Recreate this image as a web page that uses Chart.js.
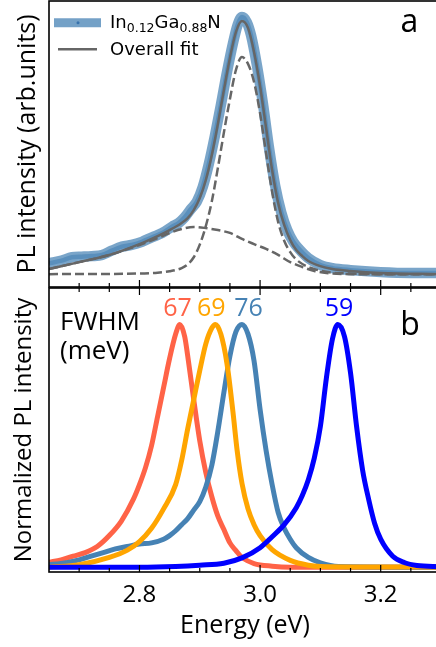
<!DOCTYPE html>
<html>
<head>
<meta charset="utf-8">
<script src="https://cdn.jsdelivr.net/npm/chart.js@4.4.1/dist/chart.umd.min.js"></script>
<style>
  html, body { margin: 0; padding: 0; background: #fff; overflow: hidden; }
  body { width: 436px; height: 647px; position: relative; }
  canvas { position: absolute; left: 0; }
  #topChart { top: 0; }
  #bottomChart { top: 287px; }
</style>
</head>
<body>
<canvas id="topChart" width="441" height="288"></canvas>
<canvas id="bottomChart" width="441" height="360"></canvas>
<script>
// x axis (energy, eV)
const xMin = 2.65, xMax = 3.30;
const majorTicks = [2.8, 3.0, 3.2];
const minorTicks = [2.70, 2.75, 2.85, 2.90, 2.95, 3.05, 3.10, 3.15, 3.25];

// panel a: measured PL of In0.12Ga0.88N
const dataE = [2.65, 2.671, 2.688, 2.704, 2.721, 2.738, 2.754, 2.771, 2.787, 2.804, 2.821, 2.837, 2.854, 2.865, 2.875, 2.885, 2.895, 2.905, 2.915, 2.925, 2.935, 2.945, 2.955, 2.963, 2.97, 2.978, 2.985, 2.995, 3.005, 3.015, 3.025, 3.035, 3.045, 3.055, 3.065, 3.08, 3.10, 3.12, 3.15, 3.20, 3.25, 3.30];
const dataPL = [0.083, 0.092, 0.104, 0.106, 0.108, 0.112, 0.127, 0.141, 0.147, 0.158, 0.174, 0.188, 0.211, 0.224, 0.244, 0.272, 0.298, 0.350, 0.430, 0.528, 0.636, 0.750, 0.852, 0.918, 0.944, 0.926, 0.880, 0.772, 0.637, 0.484, 0.354, 0.262, 0.199, 0.158, 0.132, 0.101, 0.077, 0.066, 0.059, 0.052, 0.049, 0.049];

// panel a: overall fit
const fitE = [2.65, 2.70, 2.75, 2.80, 2.83, 2.85, 2.87, 2.88, 2.89, 2.90, 2.91, 2.92, 2.93, 2.94, 2.95, 2.96, 2.97, 2.98, 2.99, 3.00, 3.01, 3.02, 3.03, 3.04, 3.05, 3.06, 3.07, 3.08, 3.10, 3.12, 3.15, 3.20, 3.30];
const fitPL = [0.063, 0.087, 0.112, 0.150, 0.178, 0.199, 0.224, 0.241, 0.269, 0.311, 0.374, 0.462, 0.570, 0.689, 0.801, 0.892, 0.930, 0.906, 0.822, 0.703, 0.556, 0.409, 0.294, 0.217, 0.164, 0.129, 0.108, 0.091, 0.073, 0.063, 0.056, 0.049, 0.045];

// panel a: fit components (dashed)
const narrowE = [2.65, 2.80, 2.83, 2.85, 2.87, 2.88, 2.89, 2.90, 2.91, 2.92, 2.93, 2.94, 2.95, 2.96, 2.97, 2.98, 2.99, 3.00, 3.01, 3.02, 3.03, 3.04, 3.05, 3.06, 3.08, 3.10, 3.12, 3.15, 3.20, 3.30];
const narrowPL = [0.045, 0.047, 0.050, 0.055, 0.066, 0.079, 0.104, 0.148, 0.213, 0.300, 0.416, 0.540, 0.657, 0.759, 0.804, 0.780, 0.717, 0.607, 0.468, 0.332, 0.227, 0.162, 0.122, 0.096, 0.070, 0.057, 0.050, 0.047, 0.045, 0.045];
const broadE = [2.65, 2.70, 2.75, 2.80, 2.83, 2.85, 2.87, 2.89, 2.91, 2.93, 2.95, 2.97, 2.99, 3.01, 3.03, 3.05, 3.07, 3.09, 3.11, 3.15, 3.30];
const broadPL = [0.063, 0.087, 0.112, 0.147, 0.171, 0.189, 0.203, 0.210, 0.206, 0.199, 0.189, 0.168, 0.150, 0.133, 0.112, 0.087, 0.070, 0.056, 0.049, 0.045, 0.045];

// panel b: normalized spectra
const redE = [2.65, 2.67, 2.69, 2.71, 2.73, 2.75, 2.77, 2.79, 2.80, 2.81, 2.82, 2.83, 2.84, 2.85, 2.86, 2.867, 2.875, 2.88, 2.89, 2.90, 2.91, 2.92, 2.93, 2.94, 2.95, 2.96, 2.97, 2.99, 3.02, 3.05, 3.30];
const redPL = [0.02, 0.03, 0.045, 0.06, 0.085, 0.13, 0.19, 0.28, 0.34, 0.41, 0.50, 0.62, 0.74, 0.86, 0.96, 1.0, 0.95, 0.87, 0.69, 0.52, 0.39, 0.29, 0.21, 0.155, 0.10, 0.068, 0.04, 0.015, 0.004, 0.0, 0.0];
const orangeE = [2.65, 2.70, 2.75, 2.78, 2.80, 2.82, 2.84, 2.86, 2.87, 2.88, 2.89, 2.90, 2.91, 2.92, 2.926, 2.935, 2.945, 2.955, 2.962, 2.97, 2.98, 2.99, 3.00, 3.02, 3.05, 3.08, 3.10, 3.30];
const orangePL = [0.0, 0.01, 0.04, 0.07, 0.105, 0.16, 0.24, 0.34, 0.44, 0.57, 0.69, 0.81, 0.92, 0.985, 1.0, 0.96, 0.84, 0.64, 0.48, 0.345, 0.24, 0.175, 0.13, 0.072, 0.028, 0.008, 0.003, 0.0];
const steelE = [2.65, 2.67, 2.70, 2.72, 2.74, 2.76, 2.78, 2.80, 2.82, 2.84, 2.85, 2.86, 2.87, 2.88, 2.89, 2.90, 2.91, 2.92, 2.93, 2.94, 2.95, 2.96, 2.97, 2.98, 2.99, 3.00, 3.01, 3.02, 3.03, 3.04, 3.05, 3.06, 3.08, 3.10, 3.13, 3.30];
const steelPL = [0.01, 0.015, 0.03, 0.045, 0.06, 0.075, 0.085, 0.095, 0.10, 0.115, 0.13, 0.15, 0.175, 0.20, 0.235, 0.27, 0.33, 0.42, 0.56, 0.72, 0.87, 0.97, 1.0, 0.96, 0.85, 0.65, 0.48, 0.34, 0.225, 0.16, 0.115, 0.08, 0.04, 0.018, 0.003, 0.0];
const blueE = [2.65, 2.80, 2.86, 2.90, 2.94, 2.97, 3.00, 3.02, 3.04, 3.06, 3.07, 3.08, 3.09, 3.10, 3.11, 3.12, 3.129, 3.14, 3.15, 3.16, 3.17, 3.18, 3.19, 3.20, 3.22, 3.24, 3.26, 3.30];
const bluePL = [0.0, 0.0, 0.003, 0.008, 0.016, 0.038, 0.08, 0.125, 0.175, 0.245, 0.295, 0.36, 0.45, 0.58, 0.78, 0.94, 1.0, 0.95, 0.80, 0.58, 0.40, 0.28, 0.18, 0.115, 0.045, 0.018, 0.007, 0.002];

// FWHM annotations (meV)
const fwhmText = ['67', '69', '76', '59'];
const fwhmAt = [2.863, 2.919, 2.981, 3.131];
const fwhmColors = ['#ff6347', '#ffa500', '#4682b4', '#0000ff'];

Chart.defaults.font.family = '"Open Sans"';
Chart.defaults.color = '#000';

function pts(xs, ys) {
    return xs.map((x, i) => ({ x: x, y: ys[i] }));
}

function line(xs, ys, color, width, dash) {
    return {
        data: pts(xs, ys),
        borderColor: color,
        borderWidth: width,
        borderDash: dash || [],
        pointRadius: 0,
        fill: false,
        cubicInterpolationMode: 'monotone'
    };
}

function frame(chart, topTicks) {
    const { ctx, chartArea: a } = chart;
    const x = chart.scales.x;
    ctx.save();
    ctx.strokeStyle = '#000';
    ctx.lineWidth = 1.6;
    ctx.strokeRect(a.left, a.top, a.right - a.left, a.bottom - a.top);
    ctx.lineWidth = 1.2;
    const mark = (v, len) => {
        const px = x.getPixelForValue(v);
        ctx.beginPath();
        ctx.moveTo(px, a.bottom);
        ctx.lineTo(px, a.bottom - len);
        if (topTicks) {
            ctx.moveTo(px, a.top);
            ctx.lineTo(px, a.top + len);
        }
        ctx.stroke();
    };
    majorTicks.forEach(v => mark(v, 7));
    minorTicks.forEach(v => mark(v, 4));
    ctx.restore();
}

function yAxis(min, max, label, size, pad) {
    return {
        min: min, max: max,
        grid: { display: false, drawTicks: false },
        border: { display: false },
        ticks: { display: false },
        afterFit: s => { s.width = 49; },
        title: { display: true, text: label, font: { size: size }, padding: { top: pad, bottom: 0 } }
    };
}

function initTop() {
    const decor = {
        id: 'decorA',
        afterDatasetsDraw(chart) {
            frame(chart, false);
            const ctx = chart.ctx;
            ctx.save();
            // legend
            ctx.lineCap = 'butt';
            ctx.strokeStyle = 'rgba(70,130,180,0.75)';
            ctx.lineWidth = 9;
            ctx.beginPath(); ctx.moveTo(54, 22.8); ctx.lineTo(101, 22.8); ctx.stroke();
            ctx.fillStyle = 'rgba(50,110,170,0.9)';
            ctx.beginPath(); ctx.arc(78, 22.8, 1.5, 0, Math.PI * 2); ctx.fill();
            ctx.strokeStyle = '#666';
            ctx.lineWidth = 2.5;
            ctx.beginPath(); ctx.moveTo(58, 49.3); ctx.lineTo(97, 49.3); ctx.stroke();

            ctx.fillStyle = '#000';
            ctx.textBaseline = 'alphabetic';
            let px = 110;
            const parts = [['In', 0], ['0.12', 1], ['Ga', 0], ['0.88', 1], ['N', 0]];
            parts.forEach(([t, sub]) => {
                ctx.font = sub ? '12.5px "DejaVu Sans"' : '18px "DejaVu Sans"';
                ctx.fillText(t, px, sub ? 31.5 : 27.5);
                px += ctx.measureText(t).width;
            });
            ctx.font = '18px "DejaVu Sans"';
            ctx.fillText('Overall fit', 110, 55);

            ctx.font = '32px "Open Sans"';
            ctx.textAlign = 'center';
            ctx.fillText('a', 409.5, 31.5);
            ctx.restore();
        }
    };
    new Chart(document.getElementById('topChart'), {
        type: 'line',
        data: {
            datasets: [
                line(fitE, fitPL, '#666666', 2.5),
                line(narrowE, narrowPL, '#666666', 2.5, [9, 4]),
                line(broadE, broadPL, '#666666', 2.5, [9, 4]),
                line(dataE, dataPL, 'rgba(70,130,180,0.6)', 4.5),
                line(dataE, dataPL, 'rgba(70,130,180,0.72)', 10.5)
            ]
        },
        options: {
            responsive: false,
            devicePixelRatio: 1,
            animation: false,
            layout: { padding: { left: 0, right: 0, top: 1, bottom: 1 } },
            plugins: { legend: { display: false }, tooltip: { enabled: false } },
            scales: {
                x: { type: 'linear', min: xMin, max: xMax, display: false },
                y: yAxis(0, 1, 'PL intensity (arb.units)', 25, 13)
            }
        },
        plugins: [decor]
    });
}

function initBottom() {
    const decor = {
        id: 'decorB',
        afterDatasetsDraw(chart) {
            frame(chart, true);
            const ctx = chart.ctx;
            const x = chart.scales.x;
            ctx.save();
            ctx.textBaseline = 'alphabetic';
            ctx.fillStyle = '#000';
            ctx.font = '26px "Open Sans"';
            ctx.fillText('FWHM', 60, 43);
            ctx.fillText('(meV)', 60, 72);
            ctx.font = '25px "Open Sans"';
            ctx.textAlign = 'center';
            fwhmText.forEach((t, i) => {
                ctx.fillStyle = fwhmColors[i];
                ctx.fillText(t, x.getPixelForValue(fwhmAt[i]), 29);
            });
            ctx.fillStyle = '#000';
            ctx.font = '32px "Open Sans"';
            ctx.fillText('b', 410, 48);
            ctx.restore();
        }
    };
    new Chart(document.getElementById('bottomChart'), {
        type: 'line',
        data: {
            datasets: [
                line(blueE, bluePL, '#0000ff', 5),
                line(orangeE, orangePL, '#ffa500', 5),
                line(steelE, steelPL, '#4682b4', 5),
                line(redE, redPL, '#ff6347', 5)
            ]
        },
        options: {
            responsive: false,
            devicePixelRatio: 1,
            animation: false,
            layout: { padding: { left: 0, right: 0, top: 1, bottom: 0 } },
            plugins: { legend: { display: false }, tooltip: { enabled: false } },
            scales: {
                x: {
                    type: 'linear', min: xMin, max: xMax,
                    grid: { display: false, drawTicks: false },
                    border: { display: false },
                    afterBuildTicks: s => { s.ticks = majorTicks.map(v => ({ value: v })); },
                    afterFit: s => { s.height = 75; },
                    ticks: { padding: 9, font: { size: 24 }, callback: v => v.toFixed(1) },
                    title: { display: true, text: 'Energy (eV)', font: { size: 25 }, padding: { top: 0, bottom: 6 } }
                },
                y: yAxis(-0.02, 1.15, 'Normalized PL intensity', 24, 10)
            }
        },
        plugins: [decor]
    });
}

initTop();
initBottom();
</script>
</body>
</html>
